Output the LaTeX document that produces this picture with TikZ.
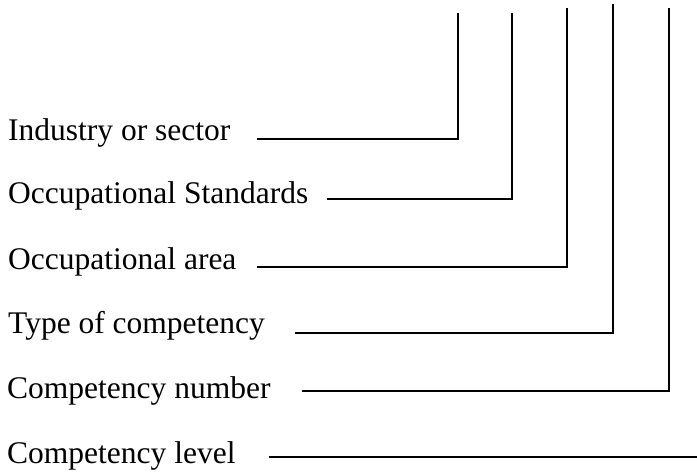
\documentclass[tikz,border=0pt]{standalone}
\usepackage{fontspec}
\setmainfont{Liberation Serif}
\usepackage{tikz}
\usetikzlibrary{positioning}

\begin{document}
\begin{tikzpicture}[x=1pt, y=-1pt,
    lbl/.style={anchor=base west, inner sep=0pt, font=\fontsize{31.5}{36}\selectfont},
    lead/.style={line width=1.6pt}]
      \useasboundingbox (0,0) rectangle (697,474);
      \node[lbl] (ind)  at (8,140) {Industry or sector};
      \node[lbl] (occ)  at (8,203) {Occupational Standards};
      \node[lbl] (area) at (8,269) {Occupational area};
      \node[lbl] (type) at (8,333) {Type of competency};
      \node[lbl] (num)  at (7,398) {Competency number};
      \node[lbl] (lvl)  at (7,463) {Competency level};
      \coordinate (ind_s)  at (257,139);  \coordinate (ind_t)  at (458,13);
      \coordinate (occ_s)  at (327,199);  \coordinate (occ_t)  at (512,13);
      \coordinate (area_s) at (257,267);  \coordinate (area_t) at (567,8);
      \coordinate (type_s) at (295,333);  \coordinate (type_t) at (613,4);
      \coordinate (num_s)  at (302,391);  \coordinate (num_t)  at (669,8);
      \coordinate (lvl_s)  at (269,457);  \coordinate (lvl_t)  at (697,457);
      \draw[lead] (ind_s)  -| (ind_t);
      \draw[lead] (occ_s)  -| (occ_t);
      \draw[lead] (area_s) -| (area_t);
      \draw[lead] (type_s) -| (type_t);
      \draw[lead] (num_s)  -| (num_t);
      \draw[lead] (lvl_s)  -- (lvl_t);
\end{tikzpicture}
\end{document}
